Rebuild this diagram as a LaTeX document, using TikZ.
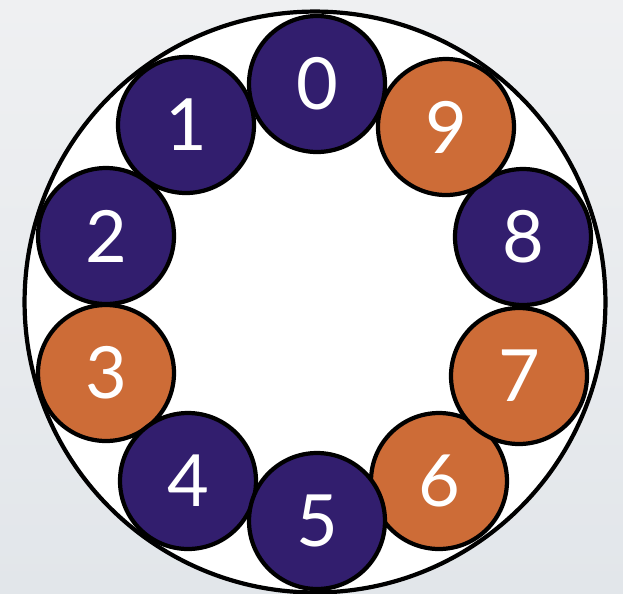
\documentclass[tikz,border=0pt]{standalone}
\usepackage{fontspec}
\setmainfont{Lato}
\usepackage{xcolor}
\definecolor{ringpurple}{RGB}{50,30,110}
\definecolor{ringorange}{RGB}{205,108,55}
\definecolor{bgtop}{RGB}{239,240,242}
\definecolor{bgbottom}{RGB}{226,230,234}

\begin{document}
\begin{tikzpicture}[x=0.02cm, y=-0.02cm,
  digit/.style={circle, draw=black, line width=2.4pt, minimum size=2.72cm,
    inner sep=0pt, text=white, font=\fontsize{41}{41}\selectfont},
  purpledigit/.style={digit, fill=ringpurple},
  orangedigit/.style={digit, fill=ringorange},
  rim/.style={circle, draw=black, line width=2.4pt, fill=white,
    minimum size=11.62cm, inner sep=0pt}
]

% fond gris clair
\shade[top color=bgtop, bottom color=bgbottom] (0,0) rectangle (623,593);
\useasboundingbox (0,0) rectangle (623,593);

% grand cercle
\node[rim] (rim) at (315,302) {};

% dix disques autour du cercle
\node[purpledigit] (d1) at (186,125) {1};
\node[purpledigit] (d2) at (106,236) {2};
\node[orangedigit] (d3) at (106,373) {3};
\node[purpledigit] (d4) at (188,481) {4};
\node[orangedigit] (d6) at (439,481) {6};
\node[orangedigit] (d7) at (519,376) {7};
\node[purpledigit] (d8) at (523,237) {8};
\node[orangedigit] (d9) at (446,127) {9};
\node[purpledigit] (d0) at (317,84) {0};
\node[purpledigit] (d5) at (317,521) {5};

\end{tikzpicture}
\end{document}
